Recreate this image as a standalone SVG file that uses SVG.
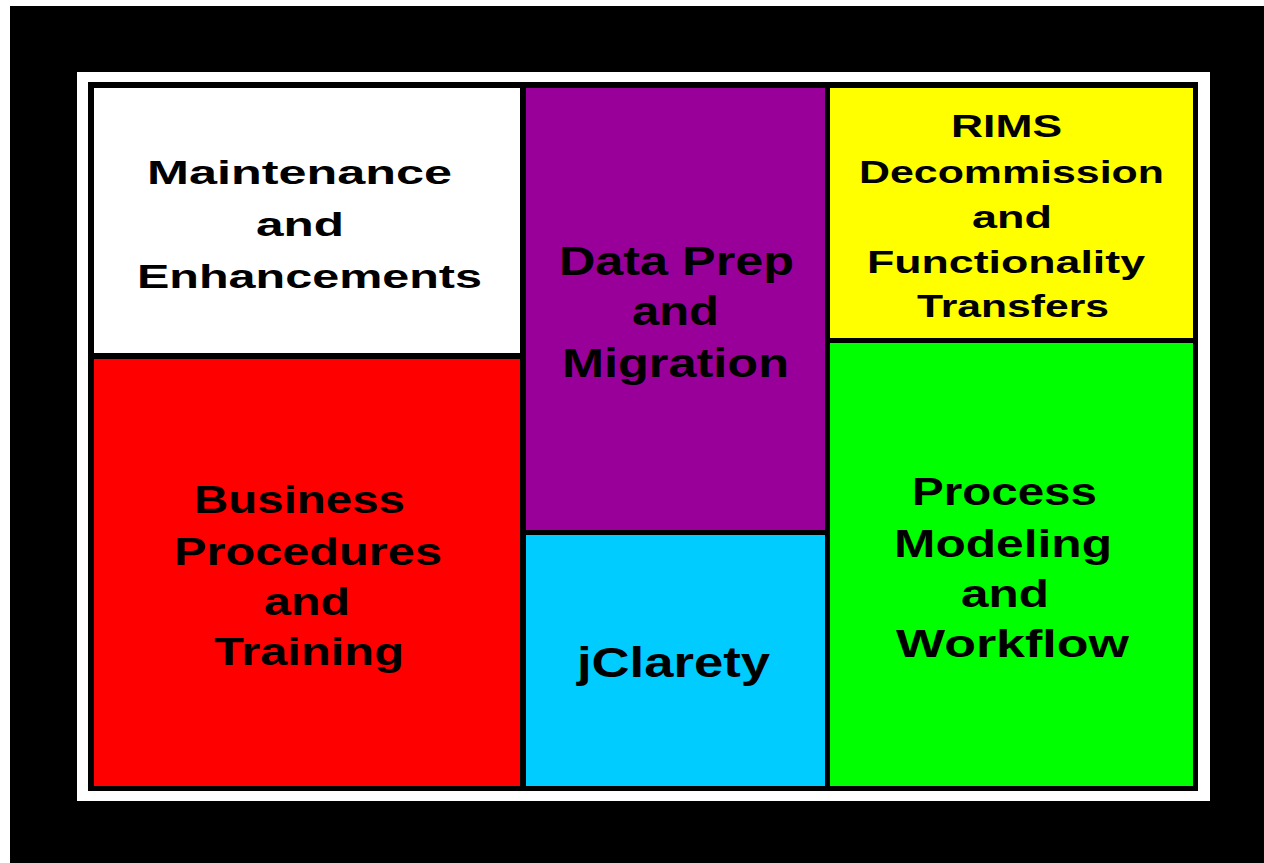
<svg xmlns="http://www.w3.org/2000/svg" width="1264" height="863" viewBox="0 0 1264 863">
  <style>
    .cell { stroke: none; }
    .lbl { font-family: "Liberation Sans", Arial, sans-serif; font-weight: bold; fill: #000000; }
  </style>
  <!-- page background and frame -->
  <rect x="0" y="0" width="1264" height="863" fill="#FFFFFF"/>
  <rect x="10" y="6" width="1254" height="857" fill="#000000"/>
  <rect x="77" y="72" width="1133" height="729" fill="#FFFFFF"/>
  <rect x="88" y="82" width="1110" height="709" fill="#000000"/>

  <g id="maintenance">
    <rect class="cell" x="94" y="88" width="426" height="265" fill="#FFFFFF"/>
    <text class="lbl" font-size="34">
      <tspan x="147" y="184" textLength="305" lengthAdjust="spacingAndGlyphs">Maintenance</tspan>
      <tspan x="256" y="236" textLength="88" lengthAdjust="spacingAndGlyphs">and</tspan>
      <tspan x="137" y="288" textLength="345" lengthAdjust="spacingAndGlyphs">Enhancements</tspan>
    </text>
  </g>

  <g id="business">
    <rect class="cell" x="94" y="359" width="426" height="427" fill="#FF0000"/>
    <text class="lbl" font-size="38.5">
      <tspan x="194" y="513" textLength="211" lengthAdjust="spacingAndGlyphs">Business</tspan>
      <tspan x="174" y="565" textLength="268" lengthAdjust="spacingAndGlyphs">Procedures</tspan>
      <tspan x="264" y="615" textLength="86" lengthAdjust="spacingAndGlyphs">and</tspan>
      <tspan x="214" y="665" textLength="190" lengthAdjust="spacingAndGlyphs">Training</tspan>
    </text>
  </g>

  <g id="data-prep">
    <rect class="cell" x="526" y="88" width="299" height="442" fill="#990099"/>
    <text class="lbl" font-size="41">
      <tspan x="559" y="275" textLength="235" lengthAdjust="spacingAndGlyphs">Data Prep</tspan>
      <tspan x="632" y="325" textLength="87" lengthAdjust="spacingAndGlyphs">and</tspan>
      <tspan x="562" y="377" textLength="227" lengthAdjust="spacingAndGlyphs">Migration</tspan>
    </text>
  </g>

  <g id="jclarety">
    <rect class="cell" x="526" y="535" width="299" height="251" fill="#00CCFF"/>
    <text class="lbl" font-size="42">
      <tspan x="577" y="677" textLength="193" lengthAdjust="spacingAndGlyphs">jClarety</tspan>
    </text>
  </g>

  <g id="rims">
    <rect class="cell" x="830" y="88" width="363" height="250" fill="#FFFF00"/>
    <text class="lbl" font-size="30.5">
      <tspan x="951" y="137" textLength="111" lengthAdjust="spacingAndGlyphs">RIMS</tspan>
      <tspan x="859" y="183" textLength="305" lengthAdjust="spacingAndGlyphs">Decommission</tspan>
      <tspan x="972" y="228" textLength="80" lengthAdjust="spacingAndGlyphs">and</tspan>
      <tspan x="867" y="273" textLength="278" lengthAdjust="spacingAndGlyphs">Functionality</tspan>
      <tspan x="917" y="317" textLength="192" lengthAdjust="spacingAndGlyphs">Transfers</tspan>
    </text>
  </g>

  <g id="process">
    <rect class="cell" x="830" y="343" width="363" height="443" fill="#00FF00"/>
    <text class="lbl" font-size="39">
      <tspan x="912" y="505" textLength="185" lengthAdjust="spacingAndGlyphs">Process</tspan>
      <tspan x="894" y="557" textLength="218" lengthAdjust="spacingAndGlyphs">Modeling</tspan>
      <tspan x="961" y="607" textLength="88" lengthAdjust="spacingAndGlyphs">and</tspan>
      <tspan x="896" y="657" textLength="233" lengthAdjust="spacingAndGlyphs">Workflow</tspan>
    </text>
  </g>
</svg>
